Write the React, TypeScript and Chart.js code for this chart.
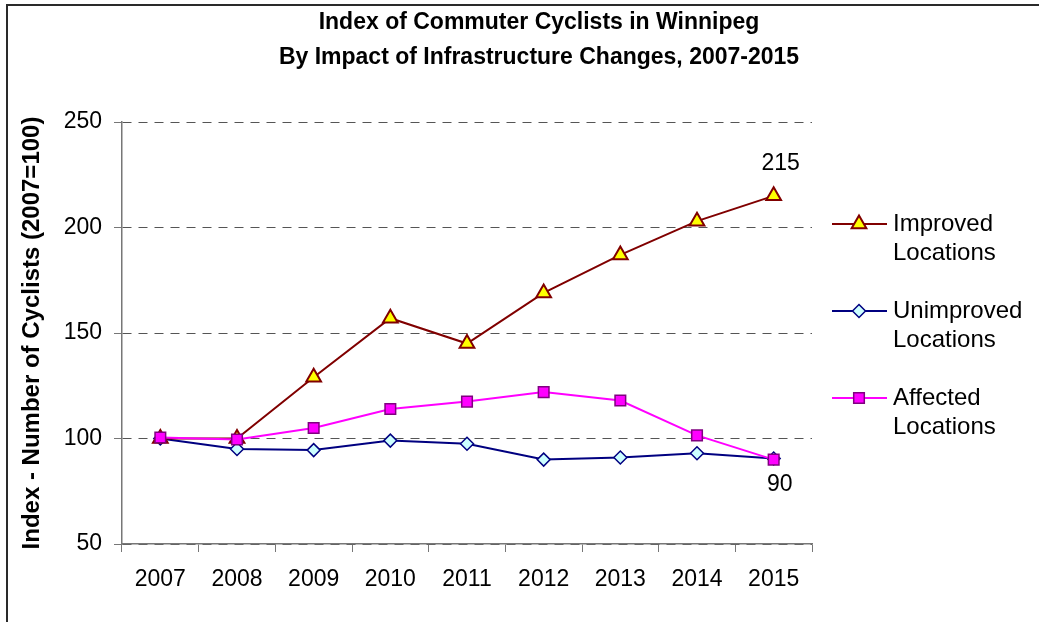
import React, { useEffect, useRef } from "react";
import { Chart, registerables } from "chart.js";

Chart.register(...registerables);

const years = ["2007", "2008", "2009", "2010", "2011", "2012", "2013", "2014", "2015"];
const improved = [100, 100, 129, 157, 145, 169, 187, 203, 215];
const unimproved = [100, 95, 94.5, 99, 97.5, 90, 91, 93, 90.5];
const affected = [100.5, 99.5, 105, 114, 117.5, 122, 118, 101.5, 90];
const yMin = 50;
const yMax = 250;
const yStep = 50;
const titleLines = [
  "Index of Commuter Cyclists in Winnipeg",
  "By Impact of Infrastructure Changes, 2007-2015",
];
const yAxisTitle = "Index - Number of Cyclists (2007=100)";
const legendNames = [
  ["Improved", "Locations"],
  ["Unimproved", "Locations"],
  ["Affected", "Locations"],
];

const FONT = "'Liberation Sans', Arial, Helvetica, sans-serif";

function drawMarker(ctx: CanvasRenderingContext2D, style: string, x: number, y: number, r: number, fill: string, stroke: string, lw: number) {
  ctx.save();
  ctx.beginPath();
  if (style === "triangle") {
    for (let k = 0; k < 3; k++) {
      const a = (k * 2 * Math.PI) / 3;
      const px = x + Math.sin(a) * r;
      const py = y - Math.cos(a) * r;
      if (k === 0) ctx.moveTo(px, py);
      else ctx.lineTo(px, py);
    }
    ctx.closePath();
  } else if (style === "rectRot") {
    ctx.moveTo(x, y - r);
    ctx.lineTo(x + r, y);
    ctx.lineTo(x, y + r);
    ctx.lineTo(x - r, y);
    ctx.closePath();
  } else {
    const s = Math.SQRT1_2 * r;
    ctx.rect(x - s, y - s, 2 * s, 2 * s);
  }
  ctx.fillStyle = fill;
  ctx.fill();
  ctx.lineWidth = lw;
  ctx.strokeStyle = stroke;
  ctx.stroke();
  ctx.restore();
}

const framePlugin = {
  id: "frame",
  beforeDraw(chart: any) {
    const ctx = chart.ctx;
    ctx.save();
    ctx.fillStyle = "#ffffff";
    ctx.fillRect(0, 0, chart.width, chart.height);
    ctx.strokeStyle = "#2a2a2a";
    ctx.lineWidth = 2;
    ctx.strokeRect(7, 5, chart.width + 50, chart.height + 50);
    // title
    ctx.fillStyle = "#000000";
    ctx.font = `bold 23px ${FONT}`;
    ctx.textAlign = "center";
    ctx.textBaseline = "middle";
    titleLines.forEach((t, i) => ctx.fillText(t, 539, 23 + i * 35));
    ctx.restore();
  },
  afterDatasetsDraw(chart: any) {
    const ctx = chart.ctx;
    ctx.save();
    ctx.fillStyle = "#000000";
    ctx.font = `23px ${FONT}`;
    ctx.textAlign = "center";
    ctx.textBaseline = "middle";
    const m0 = chart.getDatasetMeta(0);
    const p0 = m0.data[m0.data.length - 1];
    ctx.fillText(String(improved[improved.length - 1]), p0.x + 7, p0.y - 32);
    const m2 = chart.getDatasetMeta(2);
    const p2 = m2.data[m2.data.length - 1];
    ctx.fillText(String(affected[affected.length - 1]), p2.x + 6, p2.y + 25);
    ctx.restore();
  },
  afterDraw(chart: any) {
    const ctx = chart.ctx;
    const area = chart.chartArea;
    const x0 = area.right + 20;
    ctx.save();
    chart.data.datasets.forEach((ds: any, i: number) => {
      const yc = 224 + i * 87;
      ctx.beginPath();
      ctx.strokeStyle = ds.borderColor;
      ctx.lineWidth = 2;
      ctx.moveTo(x0, yc);
      ctx.lineTo(x0 + 55, yc);
      ctx.stroke();
      drawMarker(ctx, ds.pointStyle, x0 + 27, yc, ds.pointRadius, ds.pointBackgroundColor, ds.pointBorderColor, ds.pointBorderWidth);
      ctx.fillStyle = "#000000";
      ctx.font = `24px ${FONT}`;
      ctx.textAlign = "left";
      ctx.textBaseline = "middle";
      legendNames[i].forEach((t, j) => ctx.fillText(t, x0 + 61, yc + j * 29));
    });
    ctx.restore();
  },
};

export default function App() {
  const ref = useRef<HTMLCanvasElement | null>(null);
  useEffect(() => {
    if (!ref.current) return;
    const chart = new Chart(ref.current, {
      type: "line",
      data: {
        labels: years,
        datasets: [
          {
            label: "Improved Locations",
            data: improved,
            borderColor: "#800000",
            borderWidth: 2,
            pointStyle: "triangle",
            pointRadius: 8.5,
            pointBackgroundColor: "#ffff00",
            pointBorderColor: "#800000",
            pointBorderWidth: 2,
            order: 1,
          },
          {
            label: "Unimproved Locations",
            data: unimproved,
            borderColor: "#000080",
            borderWidth: 2,
            pointStyle: "rectRot",
            pointRadius: 6.5,
            pointBackgroundColor: "#ccffff",
            pointBorderColor: "#000080",
            pointBorderWidth: 1.5,
            order: 2,
          },
          {
            label: "Affected Locations",
            data: affected,
            borderColor: "#ff00ff",
            borderWidth: 2,
            pointStyle: "rect",
            pointRadius: 7.5,
            pointBackgroundColor: "#ff00ff",
            pointBorderColor: "#800080",
            pointBorderWidth: 1.5,
            order: 0,
          },
        ] as any,
      },
      options: {
        responsive: false,
        maintainAspectRatio: false,
        animation: false,
        layout: { padding: { top: 122, right: 227, left: 0, bottom: 0 } },
        plugins: {
          legend: { display: false },
          title: { display: false },
          tooltip: { enabled: false },
        },
        scales: {
          x: {
            type: "category",
            offset: true,
            afterFit: (s: any) => {
              s.height = 78;
            },
            grid: {
              offset: true,
              drawOnChartArea: false,
              drawTicks: true,
              tickLength: 8,
              color: "#777777",
              tickColor: "#777777",
            },
            border: { color: "#777777", width: 1.5 },
            ticks: {
              color: "#000000",
              font: { family: FONT, size: 23 },
              padding: 14,
              maxRotation: 0,
              autoSkip: false,
            },
          },
          y: {
            min: yMin,
            max: yMax,
            afterFit: (s: any) => {
              s.width = 122;
            },
            grid: {
              color: "#555555",
              tickColor: "#777777",
              tickLength: 8,
              lineWidth: 1,
            },
            border: { color: "#777777", width: 1.5, dash: [9, 7] },
            ticks: {
              stepSize: yStep,
              color: "#000000",
              font: { family: FONT, size: 23 },
              padding: 12,
            },
            title: {
              display: true,
              text: yAxisTitle,
              color: "#000000",
              font: { family: FONT, size: 24, weight: "bold" },
              padding: { top: 18, bottom: 0 },
            },
          },
        },
      },
      plugins: [framePlugin],
    });
    return () => chart.destroy();
  }, []);
  return (
    <div style={{ position: "absolute", left: 0, top: 0, width: 1039, height: 622 }}>
      <canvas ref={ref} width={1039} height={622} />
    </div>
  );
}
